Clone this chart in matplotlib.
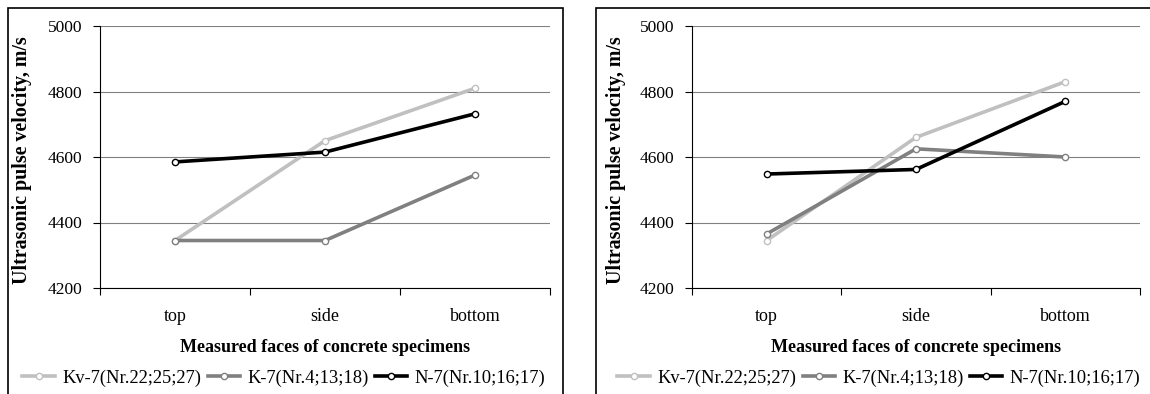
import matplotlib
matplotlib.use("Agg")
import matplotlib.pyplot as plt
from matplotlib.patches import Rectangle

categories = ["top", "side", "bottom"]
series_names = ["Kv-7(Nr.22;25;27)", "K-7(Nr.4;13;18)", "N-7(Nr.10;16;17)"]
left_kv = [4345, 4650, 4810]
left_k = [4345, 4345, 4545]
left_n = [4585, 4615, 4732]
right_kv = [4345, 4660, 4830]
right_k = [4365, 4625, 4600]
right_n = [4548, 4562, 4770]
yticks = [4200, 4400, 4600, 4800, 5000]

colors = ["#C0C0C0", "#808080", "#000000"]

plt.rcParams['font.family'] = ['Liberation Serif', 'DejaVu Serif']

W, H = 1150, 394
fig = plt.figure(figsize=(W/100, H/100), dpi=100)

def fx(px): return px / W
def fy(py): return 1 - py / H

def panel(ax_left, ax_right, box_left, box_right, ylab_x, leg_cx, data):
    top, bottom = 26, 288
    aw = ax_right - ax_left
    ah = bottom - top
    ax = fig.add_axes([fx(ax_left), fy(bottom), fx(aw), ah / H])
    x = list(range(len(categories)))
    lines = []
    for vals, c, name in zip(data, colors, series_names):
        ln, = ax.plot(x, vals, color=c, lw=2.6, marker='o', ms=4.5, mfc='white',
                      mec=c, mew=1.0, label=name, zorder=3)
        lines.append(ln)
    ax.set_xlim(-0.5, 2.5)
    ax.set_ylim(4200, 5000)
    ax.set_yticks(yticks)
    ax.set_yticklabels([str(v) for v in yticks], fontsize=12.5)
    ax.set_xticks([-0.5, 0.5, 1.5, 2.5])
    ax.set_xticklabels([])
    ax.set_xticks(x, minor=True)
    ax.set_xticklabels(categories, minor=True, fontsize=13)
    ax.tick_params(axis='x', which='minor', length=0, pad=14.5)
    ax.tick_params(axis='x', which='major', length=5, direction='out', color='black')
    ax.tick_params(axis='y', length=5, direction='out', pad=7.5, color='black')
    ax.grid(axis='y', color='#808080', lw=0.8)
    ax.set_axisbelow(True)
    for s in ['top', 'right']:
        ax.spines[s].set_visible(False)
    ax.spines['left'].set_color('black')
    ax.spines['bottom'].set_color('black')
    ax.set_xlabel("Measured faces of concrete specimens", fontsize=13,
                  fontweight='bold', va='center')
    ax.xaxis.set_label_coords(0.5, (bottom - 347) / ah)
    ax.set_ylabel("Ultrasonic pulse velocity, m/s", fontsize=14.4,
                  fontweight='bold', va='center', ha='center')
    ax.yaxis.set_label_coords((ylab_x - ax_left) / aw, (bottom - 160) / ah)
    rect = Rectangle((fx(box_left), -0.05), fx(box_right - box_left), fy(8) + 0.05,
                     transform=fig.transFigure, fill=False, edgecolor='black',
                     lw=1.2, clip_on=False)
    fig.add_artist(rect)
    fig.legend(lines, series_names, loc='center', bbox_to_anchor=(fx(leg_cx), fy(378)),
               ncol=3, frameon=False, fontsize=13.3, handlelength=1.75,
               handletextpad=0.4, columnspacing=0.35, borderaxespad=0,
               borderpad=0)
    return ax

panel(100, 550, 8, 563, 22, 284, [left_kv, left_k, left_n])
panel(692, 1140, 596, 1160, 616, 879, [right_kv, right_k, right_n])

fig.savefig("out.png", dpi=100)
